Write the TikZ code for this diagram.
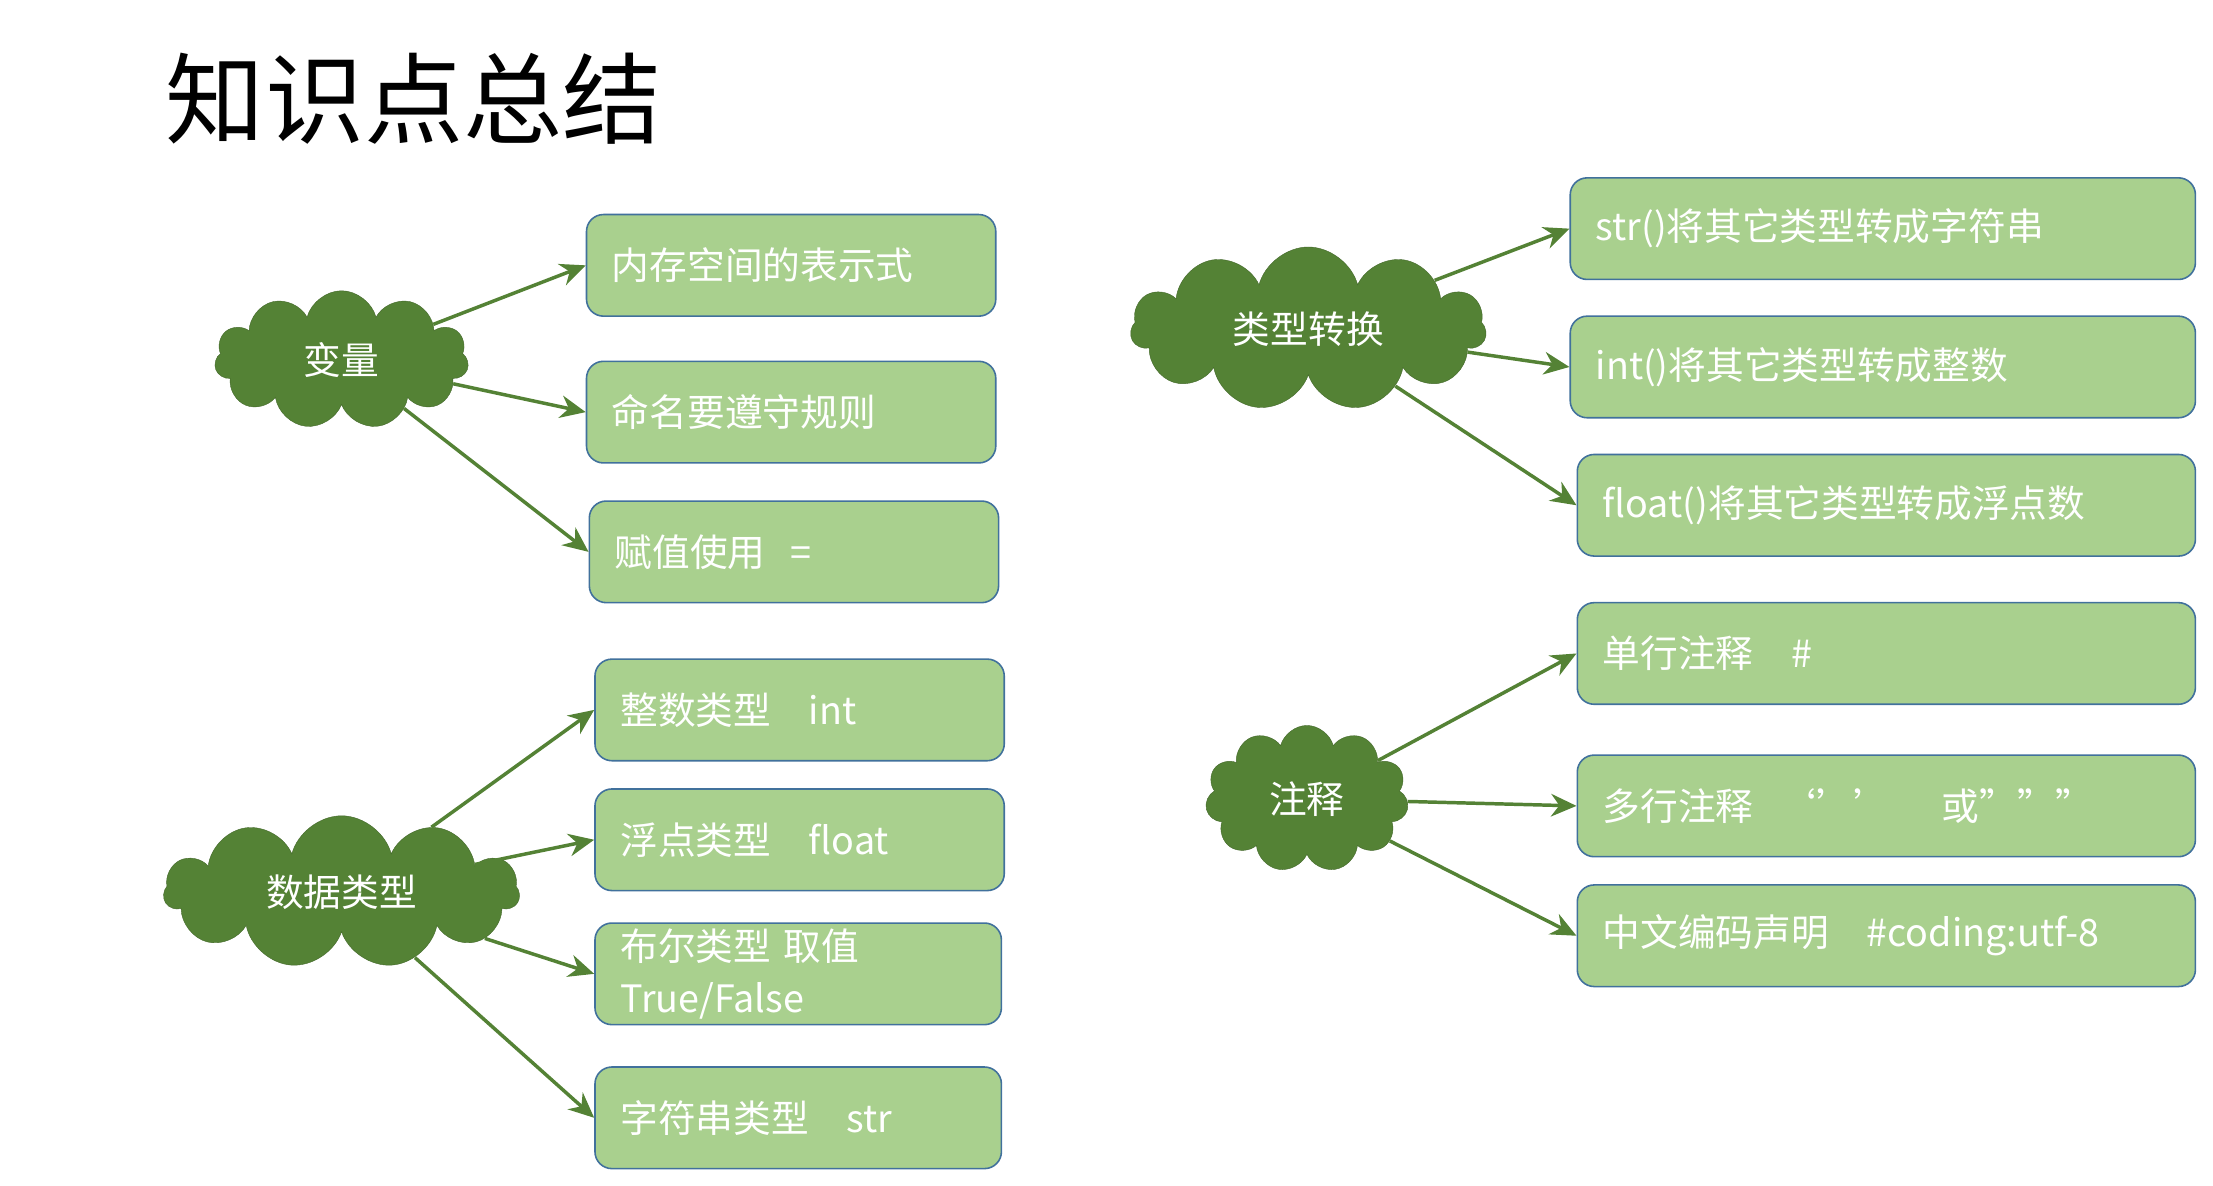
\documentclass[tikz,border=0pt]{standalone}
\usepackage{fontspec}
\setmainfont{Noto Sans CJK SC}
\usetikzlibrary{shapes.symbols,arrows.meta}
\definecolor{boxfill}{HTML}{A9D08E}
\definecolor{boxdraw}{HTML}{41719C}
\definecolor{dgreen}{HTML}{548235}
\tikzset{
 box/.style={draw=boxdraw,line width=1.6pt,fill=boxfill,rounded corners=0.6cm,text=white,
   font=\fontsize{38}{52}\selectfont,align=left,inner xsep=0.9cm,minimum height=3.6cm,anchor=west},
 cl/.style={cloud,cloud puffs=11,cloud ignores aspect,draw=dgreen!80!black,fill=dgreen,text=white,
   font=\fontsize{38}{46}\selectfont,inner sep=0pt},
 arr/.style={draw=dgreen,line width=3.5pt,-{Stealth[length=0.9cm,width=0.8cm]}}
}
\begin{document}
\begin{tikzpicture}[x=0.05cm,y=-0.05cm]
\useasboundingbox (0,0) rectangle (1568,840);
\fill[white] (0,0) rectangle (1568,840);
\node[font=\fontsize{100}{110}\selectfont,anchor=west] (title) at (115,70) {知识点总结};
% left boxes
\node[box,text width=12.7cm] (b1) at (415,188) {内存空间的表示式};
\node[box,text width=12.7cm] (b2) at (415,292) {命名要遵守规则};
\node[box,text width=12.7cm] (b3) at (417,391) {赋值使用\ \ =};
\node[box,text width=12.7cm] (b4) at (421,503) {整数类型\ \ \ int};
\node[box,text width=12.7cm] (b5) at (421,595) {浮点类型\ \ \ float};
\node[box,text width=12.6cm,inner ysep=0.1cm] (b6) at (421,690) {布尔类型 取值\\True/False};
\node[box,text width=12.6cm] (b7) at (421,792) {字符串类型\ \ \ str};
% right boxes
\node[box,text width=20.35cm] (r1) at (1112,162) {str()将其它类型转成字符串};
\node[box,text width=20.35cm] (r2) at (1112,260) {int()将其它类型转成整数};
\node[box,text width=20.1cm] (r3) at (1117,358) {float()将其它类型转成浮点数};
\node[box,text width=20.1cm] (r4) at (1117,463) {单行注释\ \ \ \#};
\node[box,text width=20.1cm] (r5) at (1117,571) {多行注释\ \ ‘’’\ \ \ \ 或”””};
\node[box,text width=20.1cm] (r6) at (1117,663) {中文编码声明\ \ \ \#coding:utf-8};
% clouds
\node[cl,minimum width=9cm,minimum height=4.9cm] (c1) at (242,255) {变量};
\node[cl,minimum width=12.6cm,minimum height=5.4cm] (c2) at (242,632) {数据类型};
\node[cl,minimum width=12.6cm,minimum height=5.8cm] (c3) at (927,233) {类型转换};
\node[cl,minimum width=7.2cm,minimum height=5.2cm] (c4) at (926,566) {注释};
% arrows
\draw[arr] (c1) -- (b1.west);
\draw[arr] (c1) -- (b2.west);
\draw[arr] (c1) -- (b3.west);
\draw[arr] (c2) -- (b4.west);
\draw[arr] (c2) -- (b5.west);
\draw[arr] (c2) -- (b6.west);
\draw[arr] (c2) -- (b7.west);
\draw[arr] (c3) -- (r1.west);
\draw[arr] (c3) -- (r2.west);
\draw[arr] (c3) -- (r3.west);
\draw[arr] (c4) -- (r4.west);
\draw[arr] (c4) -- (r5.west);
\draw[arr] (c4) -- (r6.west);
\end{tikzpicture}
\end{document}
